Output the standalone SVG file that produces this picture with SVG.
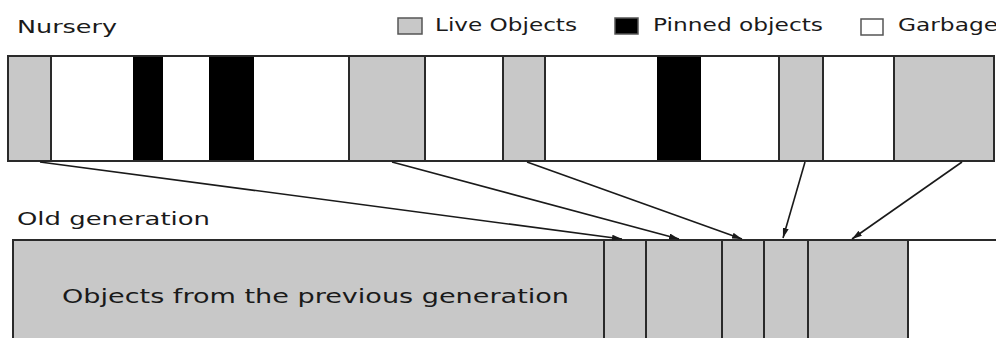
<svg xmlns="http://www.w3.org/2000/svg" width="996" height="338" viewBox="0 0 996 338">
  <style>
    .lbl { font-family: "DejaVu Sans", "Liberation Sans", sans-serif; font-size: 18px; fill: #1a1a1a; }
    .big { font-size: 20px; }
    .live { fill: #c8c8c8; stroke: #2a2a2a; stroke-width: 2; }
    .pinned { fill: #000; stroke: #000; stroke-width: 2; }
    .garbage { fill: #fff; stroke: #2a2a2a; stroke-width: 2; }
    .key { stroke: #555; stroke-width: 1.5; }
    .conn { stroke: #1a1a1a; stroke-width: 1.6; fill: none; marker-end: url(#tip); }
  </style>
  <defs>
    <marker id="tip" viewBox="0 0 10 6" refX="10" refY="3" markerWidth="10" markerHeight="6" markerUnits="userSpaceOnUse" orient="auto">
      <path d="M0,0 L10,3 L0,6 Z" fill="#1a1a1a"/>
    </marker>
  </defs>

  <rect width="996" height="338" fill="#fff"/>

  <!-- titles -->
  <text class="lbl" x="17" y="33" textLength="100" lengthAdjust="spacingAndGlyphs">Nursery</text>
  <text class="lbl" x="17" y="225" textLength="193" lengthAdjust="spacingAndGlyphs">Old generation</text>

  <!-- legend -->
  <g id="legend">
    <rect class="key" x="398" y="18" width="24" height="16" fill="#c8c8c8"/>
    <text class="lbl" x="435" y="31" textLength="142" lengthAdjust="spacingAndGlyphs">Live Objects</text>
    <rect class="key" x="615" y="18" width="23" height="16" fill="#000" stroke="#000"/>
    <text class="lbl" x="653" y="31" textLength="170" lengthAdjust="spacingAndGlyphs">Pinned objects</text>
    <rect class="key" x="861" y="19" width="22" height="16" fill="#fff"/>
    <text class="lbl" x="898" y="31" textLength="100" lengthAdjust="spacingAndGlyphs">Garbage</text>
  </g>

  <!-- nursery heap -->
  <g id="nursery">
    <rect class="garbage" x="8" y="56" width="986" height="105"/>
    <rect class="live" x="8" y="56" width="43" height="105"/>
    <rect class="pinned" x="134" y="56" width="28" height="105"/>
    <rect class="pinned" x="210" y="56" width="43" height="105"/>
    <rect class="live" x="349" y="56" width="76" height="105"/>
    <rect class="live" x="503" y="56" width="42" height="105"/>
    <rect class="pinned" x="658" y="56" width="42" height="105"/>
    <rect class="live" x="779" y="56" width="44" height="105"/>
    <rect class="live" x="894" y="56" width="100" height="105"/>
    <rect x="8" y="56" width="986" height="105" fill="none" stroke="#2a2a2a" stroke-width="2"/>
  </g>

  <!-- old generation heap -->
  <g id="old-generation">
    <line x1="13" y1="240" x2="996" y2="240" stroke="#2a2a2a" stroke-width="2"/>
    <rect class="live" x="13" y="240" width="591" height="110"/>
    <text class="lbl big" x="62" y="303" textLength="507" lengthAdjust="spacingAndGlyphs">Objects from the previous generation</text>
    <rect class="live" x="604" y="240" width="42" height="110"/>
    <rect class="live" x="646" y="240" width="76" height="110"/>
    <rect class="live" x="722" y="240" width="42" height="110"/>
    <rect class="live" x="764" y="240" width="44" height="110"/>
    <rect class="live" x="808" y="240" width="100" height="110"/>
  </g>

  <!-- promotion arrows -->
  <g id="connectors">
    <line class="conn" x1="40" y1="162" x2="622" y2="239"/>
    <line class="conn" x1="392" y1="162" x2="679" y2="239"/>
    <line class="conn" x1="527" y1="162" x2="742" y2="239"/>
    <line class="conn" x1="805" y1="162" x2="783" y2="238"/>
    <line class="conn" x1="962" y1="162" x2="852" y2="239"/>
  </g>
</svg>
